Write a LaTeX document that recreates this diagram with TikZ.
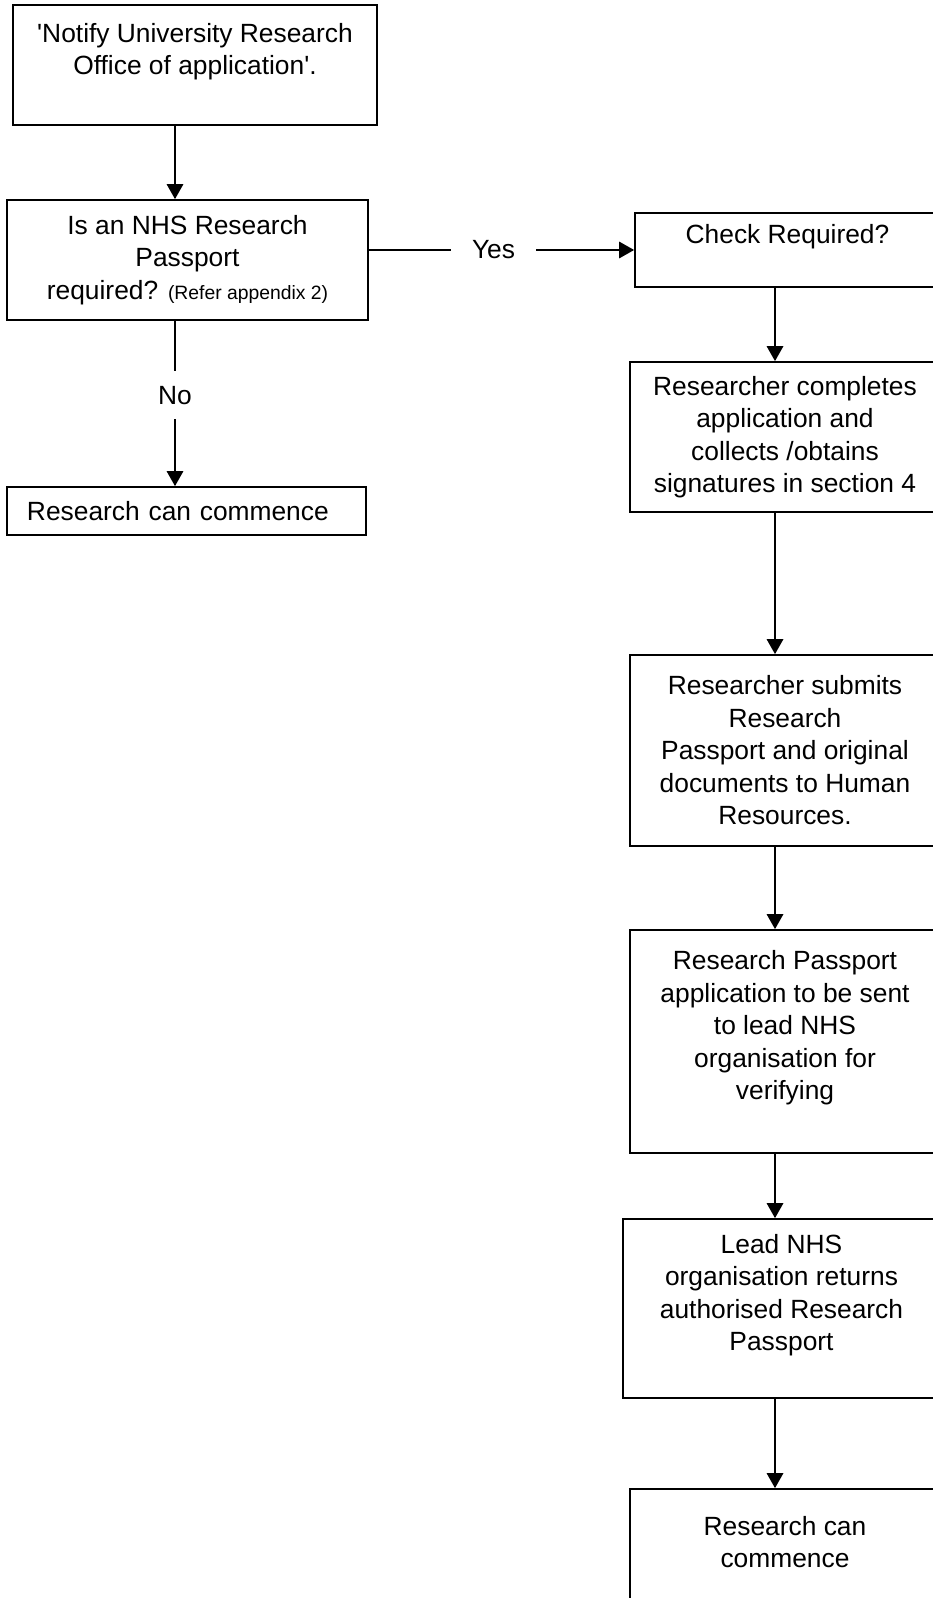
\documentclass[tikz,border=0pt]{standalone}
\usepackage{fontspec}
\newfontfamily\arialf{Liberation Sans}
\usetikzlibrary{arrows.meta, positioning, calc}

\begin{document}
\begin{tikzpicture}[
  >={Triangle[length=3mm, width=3.3mm]},
  pbox/.style={
    draw, line width=1pt, fill=white,
    font=\arialf\fontsize{15}{18.5}\selectfont,
    align=center, inner sep=4pt
  },
  arr/.style={->, line width=0.9pt},
  lbl/.style={font=\arialf\fontsize{15}{18.5}\selectfont, fill=white},
]

% Page
\fill[white] (0,0) rectangle (18.64,-31.96);
\useasboundingbox (0,0) rectangle (18.64,-31.96);

% Columns the arrows run along
\coordinate (lcol) at (3.50,0);
\coordinate (rcol) at (15.50,0);

% =============================================
% Left column
% =============================================
\node[pbox, minimum width=7.28cm, minimum height=2.40cm] (notify) at (3.90,-1.30)
  {'Notify University Research\\Office of application'.\\~};

\node[pbox, minimum width=7.22cm, minimum height=2.40cm] (need) at (3.75,-5.20)
  {Is an NHS Research\\Passport\\required? {\fontsize{11}{13}\selectfont(Refer appendix 2)}};

\node[pbox, minimum width=7.18cm, minimum height=0.96cm,
      text width=6.38cm, inner xsep=0.4cm, align=left] (stop) at (3.73,-10.22)
  {Research can commence};

% =============================================
% Right column
% =============================================
\node[pbox, minimum width=6.10cm, minimum height=1.48cm] (chk) at (15.75,-5.00)
  {Check Required?\\~};

\node[pbox, minimum width=6.20cm, minimum height=3.00cm] (comp) at (15.70,-8.74)
  {Researcher completes\\application and\\collects /obtains\\signatures in section 4};

\node[pbox, minimum width=6.20cm, minimum height=3.82cm] (subm) at (15.70,-15.01)
  {Researcher submits\\Research\\Passport and original\\documents to Human\\Resources.};

\node[pbox, minimum width=6.20cm, minimum height=4.46cm] (send) at (15.70,-20.83)
  {Research Passport\\application to be sent\\to lead NHS\\organisation for\\verifying\\~};

\node[pbox, minimum width=6.34cm, minimum height=3.58cm] (lead) at (15.63,-26.17)
  {Lead NHS\\organisation returns\\authorised Research\\Passport\\~};

\node[pbox, minimum width=6.20cm, minimum height=3.42cm] (done) at (15.70,-31.49)
  {Research can\\commence\\~\\~};

% =============================================
% Arrows
% =============================================
\draw[arr] (lcol |- notify.south) -- (lcol |- need.north);

% No branch
\draw[arr] (lcol |- need.south) -- (lcol |- stop.north)
  node[pos=0.45, lbl, inner ysep=0.3cm] {No};

% Yes branch
\draw[arr] (need.east |- chk.west) -- (chk.west)
  node[pos=0.47, lbl, inner xsep=0.42cm] {Yes};

\draw[arr] (rcol |- chk.south) -- (rcol |- comp.north);
\draw[arr] (rcol |- comp.south) -- (rcol |- subm.north);
\draw[arr] (rcol |- subm.south) -- (rcol |- send.north);
\draw[arr] (rcol |- send.south) -- (rcol |- lead.north);
\draw[arr] (rcol |- lead.south) -- (rcol |- done.north);

\end{tikzpicture}
\end{document}
